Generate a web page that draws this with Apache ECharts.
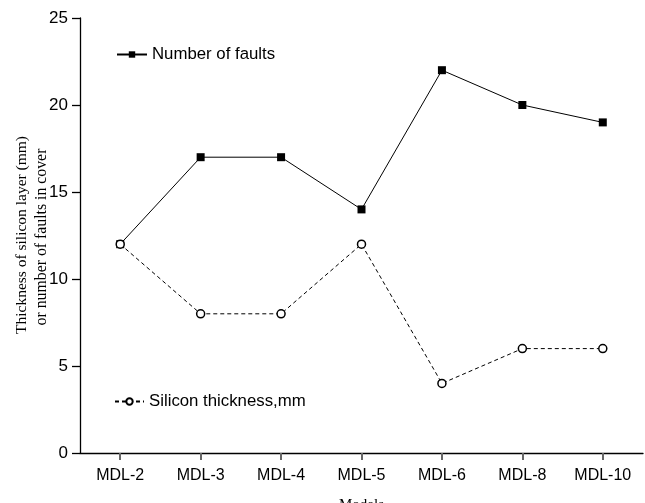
<!DOCTYPE html>
<html><head><meta charset="utf-8">
<script src="https://cdn.jsdelivr.net/npm/echarts@6/dist/echarts.min.js"></script>
<style>html,body{margin:0;padding:0;background:#fff}#c{width:645px;height:503px}</style>
</head><body><div id="c"></div>
<script>
const categories = ['MDL-2','MDL-3','MDL-4','MDL-5','MDL-6','MDL-8','MDL-10'];
const faults = [12, 17, 17, 14, 22, 20, 19];
const silicon = [12, 8, 8, 12, 4, 6, 6];
const yTicks = [0, 5, 10, 15, 20, 25];

const chart = echarts.init(document.getElementById('c'));
chart.setOption({
  animation: false,
  backgroundColor: '#fff',
  grid: {left: 80, right: 2, top: 18, bottom: 50, containLabel: false, outerBoundsMode: 'none'},
  xAxis: {
    type: 'category', data: categories, boundaryGap: true,
    name: 'Models', nameLocation: 'middle', nameGap: 45,
    nameTextStyle: {fontFamily: 'Liberation Serif', fontSize: 15, color: '#000'},
    axisLine: {lineStyle: {color: '#000', width: 1.3}},
    axisTick: {show: true, alignWithLabel: true, length: 7, lineStyle: {color: '#666', width: 2}},
    axisLabel: {color: '#000', fontFamily: 'Liberation Sans', fontSize: 16, margin: 15}
  },
  yAxis: {
    type: 'value', min: yTicks[0], max: yTicks[yTicks.length-1], interval: 5,
    axisLine: {show: true, lineStyle: {color: '#000', width: 1.3}},
    axisTick: {show: true, length: 8, lineStyle: {color: '#000', width: 1.3}},
    splitLine: {show: false},
    axisLabel: {color: '#000', fontFamily: 'Liberation Sans', fontSize: 17, margin: 12}
  },
  legend: [
    {data: ['Number of faults'], left: 111, top: 41, itemWidth: 30, itemHeight: 8,
     textStyle: {fontFamily: 'Liberation Sans', fontSize: 16.8, color: '#000'}},
    {data: ['Silicon thickness,mm'], left: 109, top: 388, itemWidth: 29, itemHeight: 8,
     textStyle: {fontFamily: 'Liberation Sans', fontSize: 16.8, color: '#000'}}
  ],
  graphic: [
    {type: 'text', x: 22, y: 235, rotation: Math.PI/2,
     style: {text: 'Thickness of silicon layer (mm)', font: '15.5px "Liberation Serif"', fill: '#000', align: 'center', verticalAlign: 'middle'}},
    {type: 'text', x: 42, y: 237, rotation: Math.PI/2,
     style: {text: 'or number of faults in cover', font: '15.8px "Liberation Serif"', fill: '#000', align: 'center', verticalAlign: 'middle'}}
  ],
  series: [
    {name: 'Number of faults', type: 'line', data: faults,
     symbol: 'rect', symbolSize: 8,
     itemStyle: {color: '#000'},
     lineStyle: {color: '#000', width: 1}},
    {name: 'Silicon thickness,mm', type: 'line', data: silicon,
     symbol: 'circle', symbolSize: 8,
     itemStyle: {color: '#fff', borderColor: '#000', borderWidth: 1.5},
     lineStyle: {color: '#000', width: 1, type: [4, 3]}}
  ]
});
</script></body></html>
